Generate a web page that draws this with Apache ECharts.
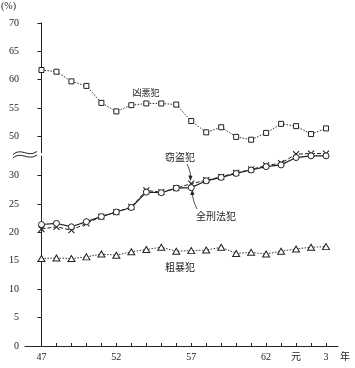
<!DOCTYPE html>
<html><head><meta charset="utf-8">
<script src="https://cdn.jsdelivr.net/npm/echarts@6/dist/echarts.min.js"></script>
<style>html,body{margin:0;padding:0;background:#fff}#c{width:355px;height:368px}</style>
</head><body><div id="c"></div>
<script>
const years = ['47','48','49','50','51','52','53','54','55','56','57','58','59','60','61','62','63','元','2','3'];
const labelYears = ['47','52','57','62','元','3'];
const upperTicks = [50,55,60,65,70];
const lowerTicks = [0,5,10,15,20,25,30];
const kyoaku = [61.7,61.4,59.7,58.9,55.9,54.4,55.5,55.8,55.8,55.6,52.7,50.7,51.6,49.9,49.4,50.6,52.2,51.8,50.4,51.4];
const zenkeiho = [21.4,21.6,21.0,21.9,22.8,23.6,24.4,27.1,27.0,27.8,27.9,29.1,29.7,30.4,31.0,31.6,31.9,33.2,33.5,33.5];
const settou = [20.6,21.0,20.4,21.6,22.8,23.6,24.5,27.4,27.1,27.8,28.6,29.2,29.8,30.5,31.1,31.8,32.2,33.8,33.9,33.9];
const soboh = [15.4,15.5,15.4,15.7,16.2,16.0,16.6,17.0,17.4,16.7,16.8,16.9,17.4,16.3,16.5,16.2,16.7,17.1,17.4,17.5];

const pts = arr => arr.map((v,i)=>[i,v]);
const NUMF = "'Liberation Serif','DejaVu Serif',serif";
const JPF = "'Noto Sans CJK JP',sans-serif";
const ink = '#222';
const xIdx = years.map((y,i)=>i);
const xLabelIdx = labelYears.map(l=>years.indexOf(l));

const chart = echarts.init(document.getElementById('c'), null, {renderer:'canvas'});
const xBase = {type:'value', min:-1.1, max:19.8};
chart.setOption({
  animation:false,
  backgroundColor:'#fff',
  grid:[
    {left:25, width:313, bottom:22, top:156},
    {left:25, width:313, top:23, height:129.7}
  ],
  xAxis:[
    Object.assign({}, xBase, {gridIndex:0,
      axisLine:{lineStyle:{color:ink,width:1}},
      axisTick:{inside:true,length:3,lineStyle:{color:ink},customValues:xIdx},
      axisLabel:{customValues:xLabelIdx, formatter:v=>years[Math.round(v)]||'', color:ink, fontFamily:NUMF+","+JPF, fontSize:10, margin:6},
      splitLine:{show:false}}),
    Object.assign({}, xBase, {gridIndex:1, show:false, splitLine:{show:false}})
  ],
  yAxis:[
    {type:'value', gridIndex:0, min:0, max:33.47,
      axisLine:{show:true,lineStyle:{color:ink,width:1}},
      axisTick:{show:true,length:4,lineStyle:{color:ink},customValues:lowerTicks},
      axisLabel:{customValues:lowerTicks,color:ink,fontFamily:NUMF,fontSize:10,margin:6},
      splitLine:{show:false}},
    {type:'value', gridIndex:1, min:47.11, max:70,
      axisLine:{show:true,lineStyle:{color:ink,width:1}},
      axisTick:{show:true,length:4,lineStyle:{color:ink},customValues:upperTicks},
      axisLabel:{customValues:upperTicks,color:ink,fontFamily:NUMF,fontSize:10,margin:6},
      splitLine:{show:false}}
  ],
  series:[
    {name:'凶悪犯', type:'line', xAxisIndex:1, yAxisIndex:1, data:pts(kyoaku), clip:false,
      symbol:'rect', symbolSize:5, itemStyle:{color:'#fff',borderColor:ink,borderWidth:1},
      lineStyle:{color:'#333',width:1,type:[1.5,1.5]}},
    {name:'粗暴犯', type:'line', xAxisIndex:0, yAxisIndex:0, data:pts(soboh), clip:false,
      symbol:'triangle', symbolSize:[7,6], itemStyle:{color:'#fff',borderColor:ink,borderWidth:1},
      lineStyle:{color:'#333',width:1,type:[1.5,1.5]}},
    {name:'窃盗犯', type:'line', xAxisIndex:0, yAxisIndex:0, data:pts(settou), clip:false,
      symbol:'path://M0,0L10,10M10,0L0,10', symbolSize:6, itemStyle:{color:'none',borderColor:ink,borderWidth:1.1},
      lineStyle:{color:ink,width:1,type:[4,2]}},
    {name:'全刑法犯', type:'line', xAxisIndex:0, yAxisIndex:0, data:pts(zenkeiho), clip:false,
      symbol:'circle', symbolSize:6, itemStyle:{color:'#fff',borderColor:ink,borderWidth:1},
      lineStyle:{color:ink,width:1.2}}
  ],
  graphic:[
    {type:'text', left:1, top:1, style:{text:'(%)', font:"10px "+NUMF, fill:ink}},
    {type:'text', left:340, top:351, style:{text:'年', font:"10px "+JPF, fill:ink}},
    {type:'text', x:146, y:93, style:{text:'凶悪犯', font:"9px "+JPF, fill:ink, align:'center', verticalAlign:'middle'}},
    {type:'text', x:180, y:157, style:{text:'窃盗犯', font:"10px "+JPF, fill:ink, align:'center', verticalAlign:'middle'}},
    {type:'text', x:216, y:216, style:{text:'全刑法犯', font:"10px "+JPF, fill:ink, align:'center', verticalAlign:'middle'}},
    {type:'text', x:180, y:267, style:{text:'粗暴犯', font:"10px "+JPF, fill:ink, align:'center', verticalAlign:'middle'}},
    {type:'bezierCurve', shape:{x1:187,y1:164,cpx1:190,cpy1:170,cpx2:191,cpy2:175,x2:190.5,y2:180}, style:{stroke:ink,lineWidth:0.8,fill:'none'}},
    {type:'polygon', shape:{points:[[188.3,175.5],[192.5,175.8],[190.5,181]]}, style:{fill:ink}},
    {type:'bezierCurve', shape:{x1:197,y1:209,cpx1:194,cpy1:203,cpx2:192,cpy2:197,x2:192.3,y2:190}, style:{stroke:ink,lineWidth:0.8,fill:'none'}},
    {type:'polygon', shape:{points:[[190.2,195],[194.4,195],[192.3,189.5]]}, style:{fill:ink}},
    {type:'bezierCurve', shape:{x1:13,y1:154.5,cpx1:21,cpy1:147,cpx2:28,cpy2:158,x2:37,y2:151.5}, style:{stroke:ink,lineWidth:1,fill:'none'}},
    {type:'bezierCurve', shape:{x1:13,y1:158,cpx1:21,cpy1:150.5,cpx2:28,cpy2:161.5,x2:37,y2:155}, style:{stroke:ink,lineWidth:1,fill:'none'}}
  ]
});
</script></body></html>
